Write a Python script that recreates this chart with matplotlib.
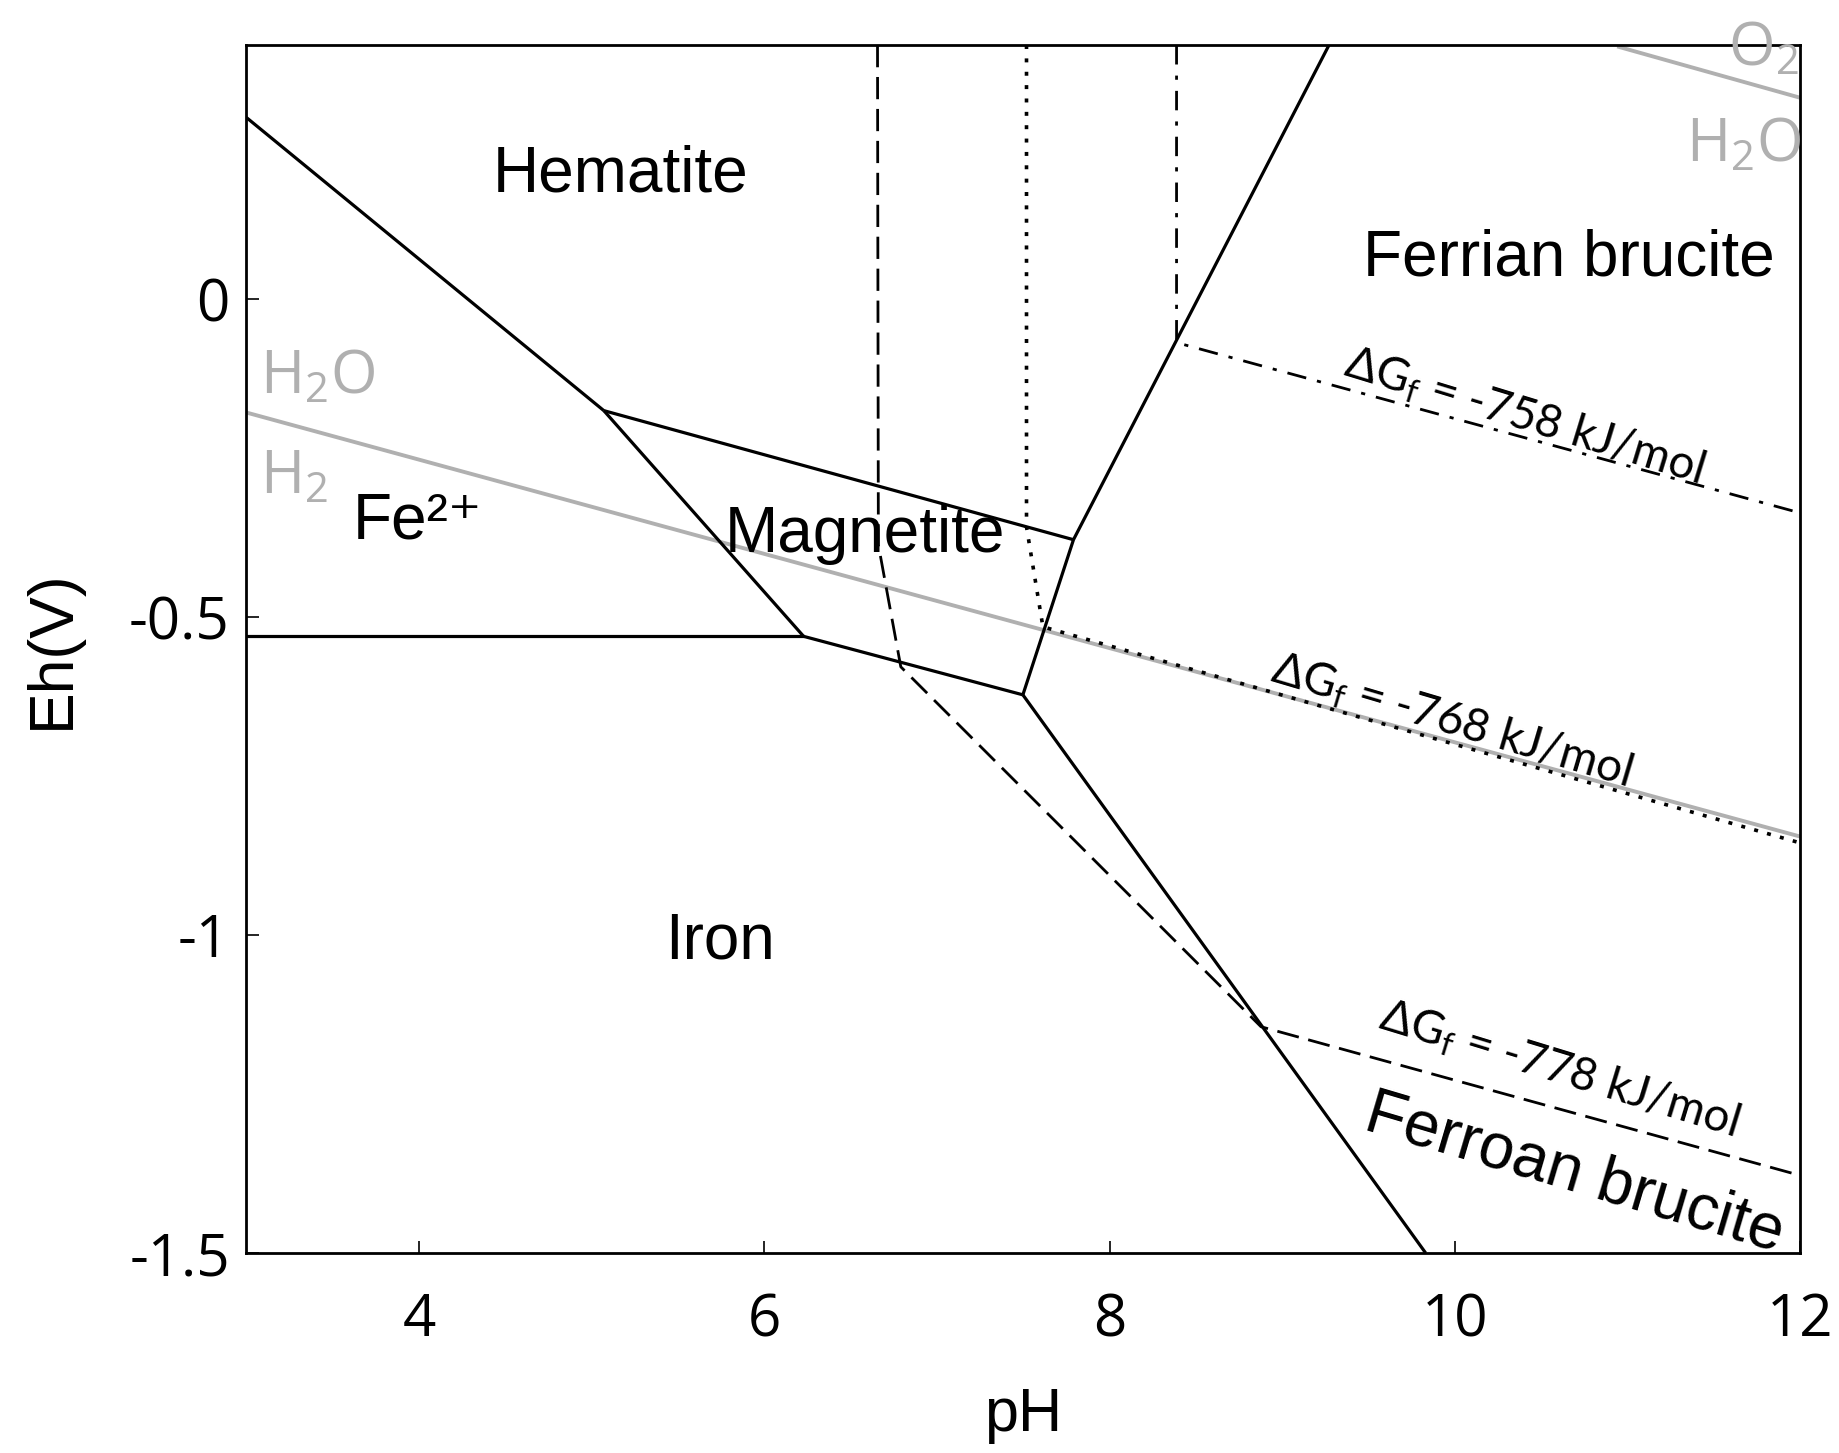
import matplotlib.pyplot as plt

# axis ticks
ph_ticks = [4, 6, 8, 10, 12]
eh_ticks = [0, -0.5, -1, -1.5]
eh_tick_labels = ['0', '-0.5', '-1', '-1.5']

# phase boundaries, (pH, Eh) vertices
hem_fe2_ph = [3.0, 5.07]
hem_fe2_eh = [0.286, -0.175]
mag_fe2_ph = [5.07, 6.227]
mag_fe2_eh = [-0.175, -0.530]
fe2_iron_ph = [3.0, 6.227]
fe2_iron_eh = [-0.530, -0.530]
hem_mag_ph = [5.07, 7.79]
hem_mag_eh = [-0.175, -0.378]
mag_iron_ph = [6.227, 7.497]
mag_iron_eh = [-0.530, -0.622]
mag_bru_ph = [7.497, 7.79, 9.27]
mag_bru_eh = [-0.622, -0.378, 0.40]
iron_bru_ph = [7.497, 9.83]
iron_bru_eh = [-0.622, -1.5]

# brucite boundaries for three formation energies
dg758_ph = [8.387, 8.387, 12.0]
dg758_eh = [0.40, -0.068, -0.336]
dg768_ph = [7.518, 7.518, 7.613, 12.0]
dg768_eh = [0.40, -0.358, -0.515, -0.855]
dg778_ph = [6.655, 6.66, 6.79, 8.876, 12.0]
dg778_eh = [0.40, -0.386, -0.578, -1.144, -1.378]

# water stability limits
h2o_h2_ph = [3.0, 12.0]
h2o_h2_eh = [-0.178, -0.845]
o2_h2o_ph = [10.95, 12.0]
o2_h2o_eh = [0.397, 0.317]

GRAY = '#b0b0b0'
LW = 2.3


def main():
    fig = plt.figure(figsize=(18.39, 14.53), dpi=100)
    ax = fig.add_axes([0.134, 0.1376, 0.845, 0.8314])

    # water lines
    ax.plot(h2o_h2_ph, h2o_h2_eh, color=GRAY, lw=2.8)
    ax.plot(o2_h2o_ph, o2_h2o_eh, color=GRAY, lw=2.8)

    # solid phase boundaries
    for xs, ys in [(hem_fe2_ph, hem_fe2_eh), (mag_fe2_ph, mag_fe2_eh),
                   (fe2_iron_ph, fe2_iron_eh), (hem_mag_ph, hem_mag_eh),
                   (mag_iron_ph, mag_iron_eh), (mag_bru_ph, mag_bru_eh),
                   (iron_bru_ph, iron_bru_eh)]:
        ax.plot(xs, ys, color='black', lw=LW, solid_capstyle='butt')

    # brucite boundaries
    ax.plot(dg758_ph, dg758_eh, color='black', lw=2.0,
            dashes=(7, 4, 1.5, 4))
    ax.plot(dg768_ph, dg768_eh, color='black', lw=2.6, dashes=(1.1, 2.6))
    ax.plot(dg778_ph, dg778_eh, color='black', lw=2.0, dashes=(8, 3.5))

    ax.set_xlim(3, 12)
    ax.set_ylim(-1.5, 0.40)
    ax.set_xticks(ph_ticks)
    ax.set_yticks(eh_ticks)
    ax.set_yticklabels(eh_tick_labels)
    ax.tick_params(direction='in', length=9, width=1.2, labelsize=42,
                   top=False, right=False)
    ax.tick_params(axis='x', pad=28)
    ax.tick_params(axis='y', pad=12)
    for lab in ax.get_xticklabels() + ax.get_yticklabels():
        lab.set_family('Open Sans')
    for sp in ax.spines.values():
        sp.set_linewidth(2.0)

    ax.set_xlabel('pH', fontsize=44, family='Liberation Sans', labelpad=26)
    ax.set_ylabel('Eh(V)', fontsize=45, family='Liberation Sans', labelpad=34)

    # region labels
    reg = dict(fontsize=46, family='Liberation Sans', ha='center', va='center')
    ax.text(5.17, 0.197, 'Hematite', **reg)
    ax.text(10.66, 0.065, 'Ferrian brucite', **reg)
    ax.text(3.99, -0.35, 'Fe²⁺', **{**reg, 'family': ['Liberation Sans', 'DejaVu Sans']})
    ax.text(6.58, -0.37, 'Magnetite', **reg)
    ax.text(5.74, -1.01, 'Iron', **reg)
    ax.text(10.69, -1.375, 'Ferroan brucite', rotation=-16.5,
            rotation_mode='anchor', **reg)

    # formation energy labels
    dg = dict(fontsize=33, family='Lato', ha='center', va='center',
              rotation_mode='anchor')
    ax.text(10.40, -0.185, r'ΔG$_{\mathregular{f}}$ = -758 kJ/mol',
            rotation=-17, **dg)
    ax.text(9.98, -0.664, r'ΔG$_{\mathregular{f}}$ = -768 kJ/mol',
            rotation=-16.5, **dg)
    ax.text(10.60, -1.212, r'ΔG$_{\mathregular{f}}$ = -778 kJ/mol',
            rotation=-17, **dg)

    # water labels
    wat = dict(fontsize=43, family='Open Sans', color=GRAY, ha='left',
               va='baseline')
    ax.text(3.08, -0.148, r'H$_{\mathregular{2}}$O', **wat)
    ax.text(3.08, -0.304, r'H$_{\mathregular{2}}$', **wat)
    ax.text(11.34, 0.218, r'H$_{\mathregular{2}}$O', **wat)
    ax.text(11.58, 0.369, r'O$_{\mathregular{2}}$', clip_on=False, **wat)

    fig.savefig('out.png', dpi=100, facecolor='white')


if __name__ == "__main__":
    main()
